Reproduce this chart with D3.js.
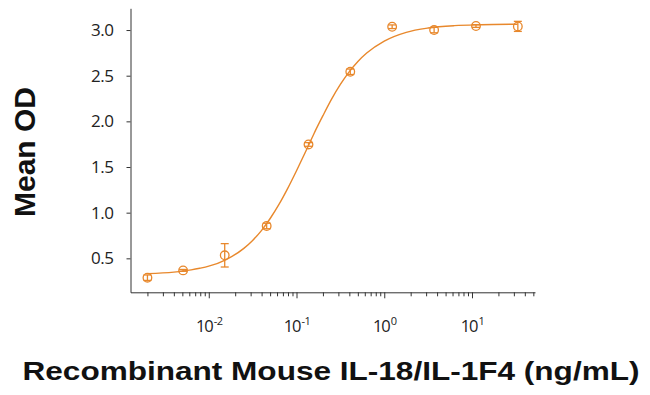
<!DOCTYPE html>
<html>
<head>
<meta charset="utf-8">
<script src="https://cdn.jsdelivr.net/npm/d3@7"></script>
<style>
  body { margin: 0; background: #fff; }
  svg { display: block; }
</style>
</head>
<body>
<svg width="650" height="395"></svg>
<script>
// measured points (ng/mL) and mean OD with error
const conc = [0.002, 0.0051, 0.0152, 0.0457, 0.137, 0.41, 1.23, 3.7, 11.1, 33.3];
const meanOD = [0.288, 0.368, 0.533, 0.854, 1.747, 2.543, 3.036, 3.0, 3.044, 3.04];
const errOD = [0.03, 0.01, 0.128, 0.03, 0.02, 0.03, 0.02, 0.03, 0.015, 0.055];

// fitted curve
const curveConc = [0.002, 0.004, 0.0063, 0.0079, 0.01, 0.0158, 0.0251, 0.0316, 0.0398, 0.0501,
  0.0631, 0.0794, 0.1, 0.126, 0.158, 0.2, 0.251, 0.316, 0.398, 0.501, 0.631, 1.0, 1.78, 3.16, 6.31, 12.6, 33];
const curveOD = [0.332, 0.349, 0.373, 0.391, 0.414, 0.487, 0.609, 0.696, 0.804, 0.936,
  1.090, 1.266, 1.459, 1.661, 1.865, 2.062, 2.243, 2.404, 2.542, 2.656, 2.748, 2.879, 2.975, 3.022, 3.048, 3.058, 3.064];

const yTicks = [0.5, 1.0, 1.5, 2.0, 2.5, 3.0];

const orange = "#e8882c";
const svg = d3.select("svg");

const x = d3.scaleLog()
  .domain([Math.pow(10, -2.892), Math.pow(10, 1.718)])
  .range([130.5, 535]);
const y = d3.scaleLinear()
  .domain([0.128, 3.238])
  .range([292.3, 8.3]);

const isMajor = d => Math.abs(Math.log10(d) - Math.round(Math.log10(d))) < 1e-9;

// minor + major ticks across the domain
const xTicks = [];
for (let e = -3; e <= 1; e++) {
  for (let m = 1; m <= 9; m++) {
    const v = m * Math.pow(10, e);
    if (v >= x.domain()[0] && v <= x.domain()[1]) xTicks.push(v);
  }
}

const xAxis = svg.append("g")
  .attr("transform", `translate(0, ${y.range()[0]})`)
  .call(d3.axisBottom(x).tickValues(xTicks).tickSize(4).tickSizeOuter(0).tickFormat(""));
xAxis.selectAll(".tick line")
  .attr("y2", d => isMajor(d) ? 6 : 4);

xAxis.selectAll(".tick")
  .filter(isMajor)
  .select("text")
  .attr("y", 39.5)
  .attr("dy", null)
  .style("font-family", "'Open Sans', sans-serif")
  .style("font-size", "16.5px")
  .style("letter-spacing", "-1px")
  .style("fill", "#222")
  .each(function(d) {
    const t = d3.select(this);
    t.text(null);
    t.append("tspan").text("10");
    t.append("tspan").attr("dy", -7).attr("dx", 1).style("font-size", "11px").style("letter-spacing", "-0.5px")
      .text(Math.round(Math.log10(d)));
  });

const yAxis = svg.append("g")
  .attr("transform", `translate(${x.range()[0]}, 0)`)
  .call(d3.axisLeft(y).tickValues(yTicks).tickSize(4).tickSizeOuter(0).tickFormat(d3.format(".1f")));
yAxis.selectAll("text")
  .attr("x", -17)
  .style("font-family", "'Open Sans', sans-serif")
  .style("font-size", "17px")
  .style("letter-spacing", "-0.5px")
  .style("fill", "#222");

svg.selectAll(".domain, .tick line")
  .attr("stroke", "#333")
  .attr("stroke-width", 1);

// fitted curve
const line = d3.line()
  .x((d, i) => x(curveConc[i]))
  .y(d => y(d))
  .curve(d3.curveMonotoneX);

svg.append("path")
  .datum(curveOD)
  .attr("d", line)
  .attr("fill", "none")
  .attr("stroke", orange)
  .attr("stroke-width", 1.4);

// points with error bars
const pts = svg.append("g")
  .selectAll("g")
  .data(meanOD)
  .join("g")
  .attr("stroke", orange)
  .attr("stroke-width", 1.3)
  .attr("fill", "none");

pts.append("line")
  .attr("x1", (d, i) => x(conc[i]))
  .attr("x2", (d, i) => x(conc[i]))
  .attr("y1", (d, i) => y(d + errOD[i]))
  .attr("y2", (d, i) => y(d - errOD[i]));
pts.append("line")
  .attr("x1", (d, i) => x(conc[i]) - 4)
  .attr("x2", (d, i) => x(conc[i]) + 4)
  .attr("y1", (d, i) => y(d + errOD[i]))
  .attr("y2", (d, i) => y(d + errOD[i]));
pts.append("line")
  .attr("x1", (d, i) => x(conc[i]) - 4)
  .attr("x2", (d, i) => x(conc[i]) + 4)
  .attr("y1", (d, i) => y(d - errOD[i]))
  .attr("y2", (d, i) => y(d - errOD[i]));
pts.append("circle")
  .attr("cx", (d, i) => x(conc[i]))
  .attr("cy", d => y(d))
  .attr("r", 4.3);

// axis titles
svg.append("text")
  .attr("x", 331)
  .attr("y", 380)
  .attr("text-anchor", "middle")
  .attr("textLength", 617)
  .attr("lengthAdjust", "spacingAndGlyphs")
  .style("font-family", "'Liberation Sans', Arial, sans-serif")
  .style("font-weight", "bold")
  .style("font-size", "26px")
  .style("fill", "#111")
  .text("Recombinant Mouse IL-18/IL-1F4 (ng/mL)");

svg.append("text")
  .attr("transform", "translate(35, 152)rotate(-90)")
  .attr("text-anchor", "middle")
  .style("font-family", "'Liberation Sans', Arial, sans-serif")
  .style("font-weight", "bold")
  .style("font-size", "30px")
  .style("fill", "#111")
  .text("Mean OD");
</script>
</body>
</html>
